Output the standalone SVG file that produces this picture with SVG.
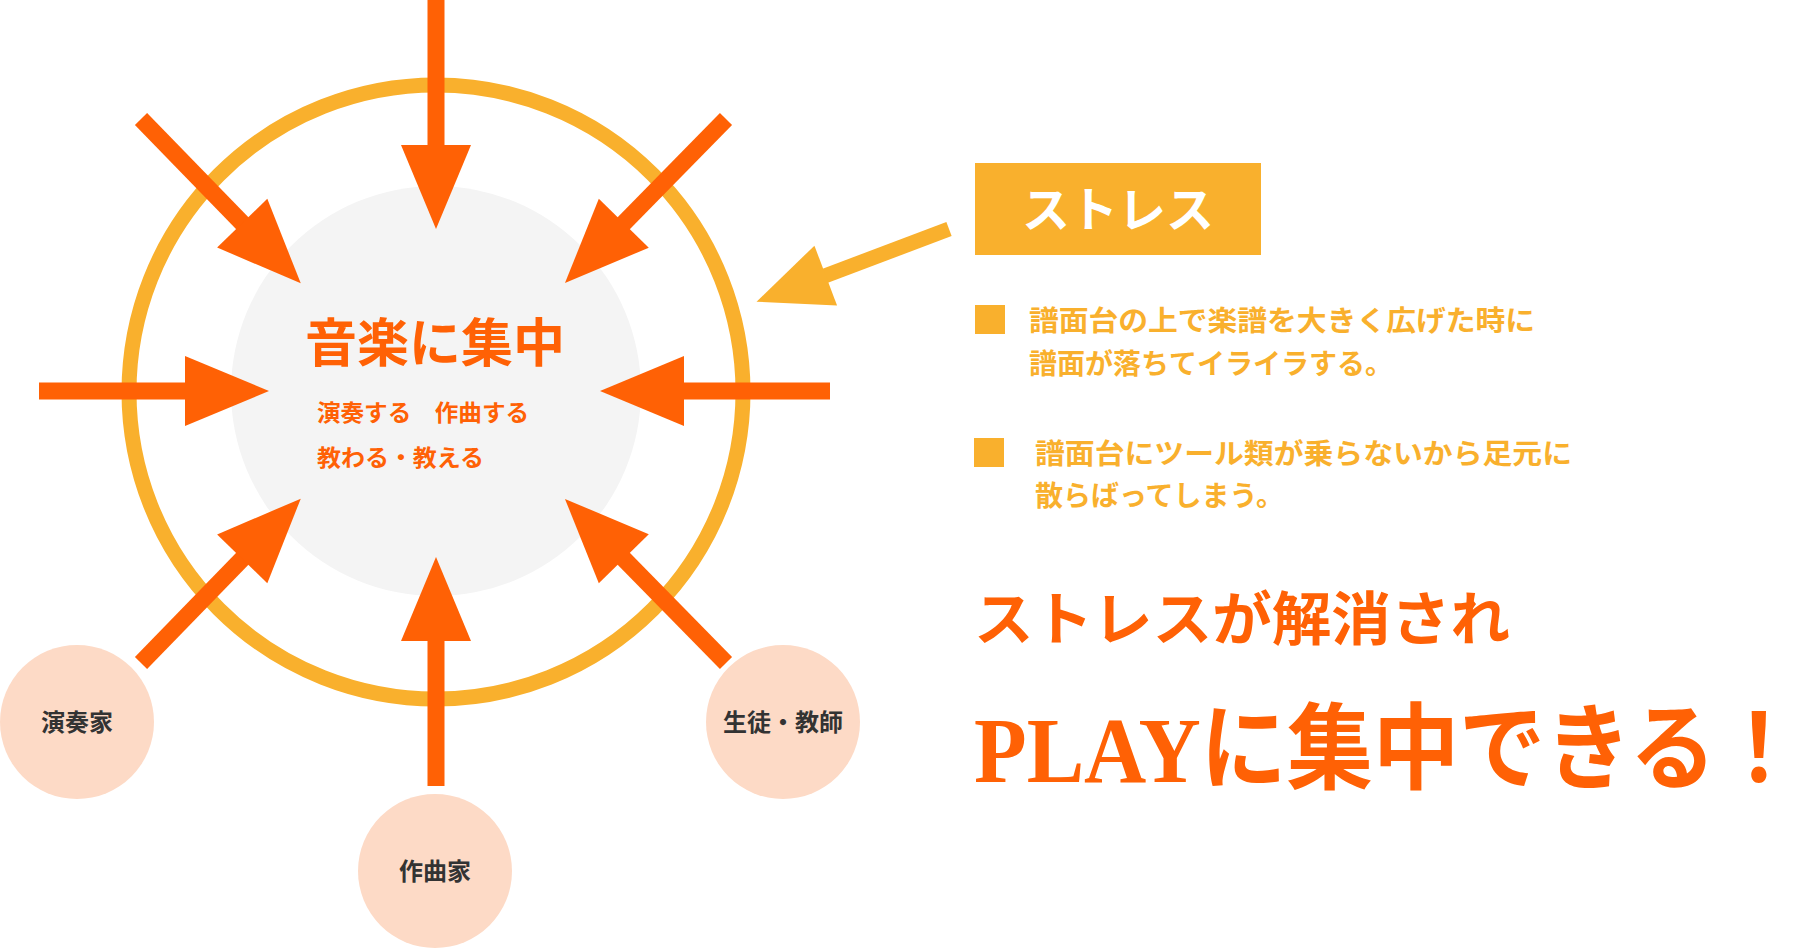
<svg xmlns="http://www.w3.org/2000/svg" width="1811" height="949" viewBox="0 0 1811 949">
<style>
.ar{stroke:#ff6105;stroke-width:17;fill:none;marker-end:url(#h)}
.yl{stroke:#f9b02d;stroke-width:15;fill:none;marker-end:url(#hy)}
.jp{font-family:"Liberation Serif","Noto Sans CJK JP",serif;font-weight:bold}
.nd{fill:#fddac6}
.nt{font-size:24px;fill:#333;text-anchor:middle}
.bt{font-size:28px;fill:#f9b02d}
</style>
<defs>
<marker id="h" markerUnits="userSpaceOnUse" markerWidth="90" markerHeight="80" refX="0" refY="35" orient="auto" overflow="visible"><path d="M-4,0 L80,35 L-4,70 Z" fill="#ff6105"/></marker>
<marker id="hy" markerUnits="userSpaceOnUse" markerWidth="80" markerHeight="70" refX="0" refY="32" orient="auto" overflow="visible"><path d="M-4,0 L70,32 L-4,64 Z" fill="#f9b02d"/></marker>
</defs>
<g id="ring">
<circle cx="436" cy="392" r="307" fill="none" stroke="#f9b02d" stroke-width="15"/>
<circle cx="436" cy="391" r="205" fill="#f4f4f4"/>
</g>
<g id="connectors">
<line class="ar" x1="436" y1="0" x2="436" y2="149"/>
<line class="ar" x1="436" y1="786" x2="436" y2="637"/>
<line class="ar" x1="39" y1="391" x2="189" y2="391"/>
<line class="ar" x1="830" y1="391" x2="680" y2="391"/>
<line class="ar" x1="141" y1="119" x2="245" y2="226"/>
<line class="ar" x1="726" y1="119" x2="621" y2="226"/>
<line class="ar" x1="141" y1="663" x2="245" y2="556"/>
<line class="ar" x1="726" y1="663" x2="621" y2="556"/>
<line class="yl" x1="949" y1="229" x2="822" y2="277"/>
</g>
<g id="center">
<text class="jp" x="435" y="362" font-size="52" fill="#ff6105" text-anchor="middle">音楽に集中</text>
<text class="jp" x="317" y="421" font-size="23" fill="#ff6105" textLength="212" lengthAdjust="spacingAndGlyphs">演奏する　作曲する</text>
<text class="jp" x="317" y="466" font-size="23" fill="#ff6105" textLength="167" lengthAdjust="spacingAndGlyphs">教わる・教える</text>
</g>
<g id="n1"><circle class="nd" cx="77" cy="722" r="77"/><text class="jp nt" x="77" y="731">演奏家</text></g>
<g id="n2"><circle class="nd" cx="783" cy="722" r="77"/><text class="jp nt" x="783" y="731">生徒・教師</text></g>
<g id="n3"><circle class="nd" cx="435" cy="871" r="77"/><text class="jp nt" x="435" y="880">作曲家</text></g>
<g id="stress">
<rect x="975" y="163" width="286" height="92" fill="#f9b02d"/>
<text class="jp" x="1118" y="227" font-size="48" fill="#fff" text-anchor="middle">ストレス</text>
</g>
<g id="b1">
<rect x="975" y="305" width="30" height="29" fill="#f9b02d"/>
<text class="jp bt" x="1029" y="331" textLength="506" lengthAdjust="spacingAndGlyphs">譜面台の上で楽譜を大きく広げた時に</text>
<text class="jp bt" x="1029" y="374">譜面が落ちてイライラする。</text>
</g>
<g id="b2">
<rect x="974" y="438" width="30" height="29" fill="#f9b02d"/>
<text class="jp bt" x="1035" y="464" textLength="537" lengthAdjust="spacingAndGlyphs">譜面台にツール類が乗らないから足元に</text>
<text class="jp bt" x="1035" y="506">散らばってしまう。</text>
</g>
<g id="headline">
<text class="jp" x="974" y="640" font-size="58" fill="#ff6105" textLength="536" lengthAdjust="spacingAndGlyphs">ストレスが解消され</text>
<text class="jp" x="974" y="782" font-size="94" fill="#ff6105" textLength="828" lengthAdjust="spacingAndGlyphs">PLAYに集中できる！</text>
</g>
</svg>
